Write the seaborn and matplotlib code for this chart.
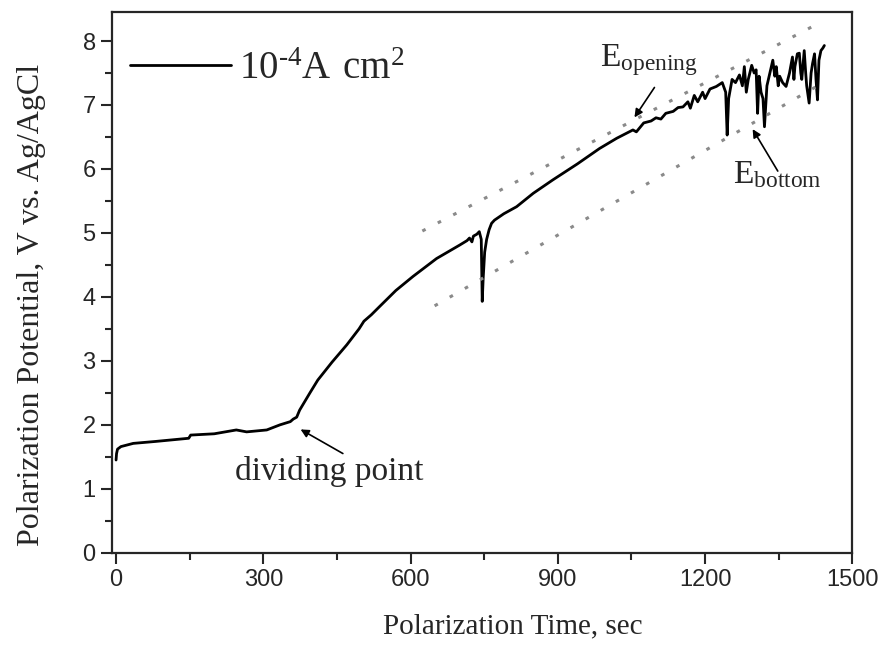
# polarization potential vs time, recreated with seaborn
import matplotlib
matplotlib.use("Agg")
import matplotlib.pyplot as plt
from matplotlib.ticker import MultipleLocator
import pandas as pd
import seaborn as sns

# data
time_s = [0, 1, 3, 10, 35, 80, 148, 152, 200, 245, 266, 307, 334, 355, 361, 368,
          374, 395, 411, 440, 470, 495, 505, 520, 537, 570, 605, 653, 700, 715,
          720, 725, 728, 735, 740, 744, 746, 748, 751, 755, 760, 765, 771, 790,
          816, 850, 890, 940, 985, 1020, 1053, 1060, 1075, 1090, 1100, 1110, 1120,
          1135, 1145, 1155, 1165, 1170, 1178, 1185, 1195, 1200, 1210, 1223, 1235,
          1242, 1245, 1248, 1255, 1262, 1270, 1276, 1280, 1284, 1288, 1295, 1300,
          1304, 1307, 1310, 1314, 1318, 1321, 1326, 1332, 1338, 1342, 1345, 1349,
          1352, 1358, 1365, 1372, 1378, 1381, 1383, 1388, 1392, 1395, 1397, 1402,
          1405, 1407, 1412, 1416, 1419, 1423, 1426, 1429, 1432, 1436, 1440, 1443]
potential = [1.45, 1.55, 1.62, 1.66, 1.71, 1.74, 1.79, 1.84, 1.86, 1.92, 1.89, 1.92,
             2.0, 2.05, 2.09, 2.12, 2.23, 2.5, 2.7, 2.98, 3.25, 3.5, 3.62, 3.72,
             3.85, 4.1, 4.32, 4.6, 4.81, 4.88, 4.92, 4.86, 4.95, 4.98, 5.02, 4.9,
             3.93, 4.3, 4.7, 4.9, 5.05, 5.15, 5.2, 5.3, 5.41, 5.62, 5.83, 6.08,
             6.32, 6.48, 6.61, 6.58, 6.72, 6.75, 6.8, 6.78, 6.87, 6.9, 6.96, 6.97,
             7.05, 6.95, 7.15, 7.05, 7.2, 7.1, 7.25, 7.29, 7.35, 7.2, 6.53, 7.1,
             7.4, 7.35, 7.47, 7.3, 7.6, 7.2, 7.4, 7.62, 7.5, 7.55, 6.87, 7.45,
             7.2, 7.1, 6.66, 7.3, 7.5, 7.7, 7.45, 7.6, 7.3, 7.45, 7.35, 7.29, 7.5,
             7.75, 7.4, 7.6, 7.8, 7.81, 7.5, 7.4, 7.85, 7.5, 7.3, 7.03, 7.5, 7.65,
             7.8, 7.4, 7.08, 7.7, 7.85, 7.89, 7.93]

# guide lines (dotted)
upper_x = [624, 1437]
upper_y = [5.03, 8.30]
lower_x = [649, 1443]
lower_y = [3.86, 7.36]

df = pd.DataFrame({"time": time_s, "potential": potential})

sns.set_style("ticks")
plt.rcParams["font.family"] = ["Liberation Serif", "DejaVu Serif"]
plt.rcParams["mathtext.fontset"] = "custom"
plt.rcParams["mathtext.rm"] = "Liberation Serif"

fig = plt.figure(figsize=(8.86, 6.62), dpi=100)
ax = fig.add_axes([0.126, 0.165, 0.836, 0.8165])

sns.lineplot(data=df, x="time", y="potential", estimator=None, sort=False,
             color="black", linewidth=2, ax=ax,
             label="$\\mathregular{10^{\u20104}A\\ cm^2}$")

ax.plot(upper_x, upper_y, color="#8a8a8a", linewidth=2.2, linestyle=(0, (1.2, 4.5)))
ax.plot(lower_x, lower_y, color="#8a8a8a", linewidth=2.2, linestyle=(0, (1.2, 4.5)))

ax.set_xlim(-9, 1500)
ax.set_ylim(0, 8.45)
ax.xaxis.set_major_locator(MultipleLocator(300))
ax.xaxis.set_minor_locator(MultipleLocator(150))
ax.yaxis.set_major_locator(MultipleLocator(1))
ax.yaxis.set_minor_locator(MultipleLocator(0.5))

for s in ax.spines.values():
    s.set_linewidth(1.6)
    s.set_visible(True)
ax.tick_params(which="major", length=8, width=1.5, direction="out")
ax.tick_params(which="minor", length=5, width=1.5, direction="out")
for lab in ax.get_xticklabels() + ax.get_yticklabels():
    lab.set_fontfamily("Liberation Sans")
    lab.set_fontsize(17)

ax.set_xlabel("Polarization Time, sec", fontsize=21)
ax.set_ylabel("Polarization Potential, V vs. Ag/AgCl", fontsize=23)
ax.xaxis.set_label_coords(0.541, -0.112)
ax.yaxis.set_label_coords(-0.088, 0.458)

# annotations
arrow = dict(arrowstyle="-|>", color="black", lw=1.2, mutation_scale=12)
ax.annotate("", xy=(371, 1.95), xytext=(467, 1.53), arrowprops=arrow)
ax.text(242, 1.14, "dividing point", fontsize=24, ha="left", va="baseline")

ax.annotate("", xy=(1053, 6.77), xytext=(1100, 7.31), arrowprops=arrow)
ax.text(985, 7.6, r"$\mathregular{E_{opening}}$", fontsize=24, ha="left", va="baseline")

ax.annotate("", xy=(1294, 6.66), xytext=(1351, 5.93), arrowprops=arrow)
ax.text(1256, 5.78, r"$\mathregular{E_{bottom}}$", fontsize=24, ha="left", va="baseline")

leg = ax.legend(loc="center left", bbox_to_anchor=(0.0247, 0.895), frameon=False,
                fontsize=28, handlelength=2.6, handletextpad=0.2,
                borderpad=0, borderaxespad=0)
for h in leg.legend_handles:
    h.set_linewidth(2)

fig.savefig("out.png", dpi=100)
